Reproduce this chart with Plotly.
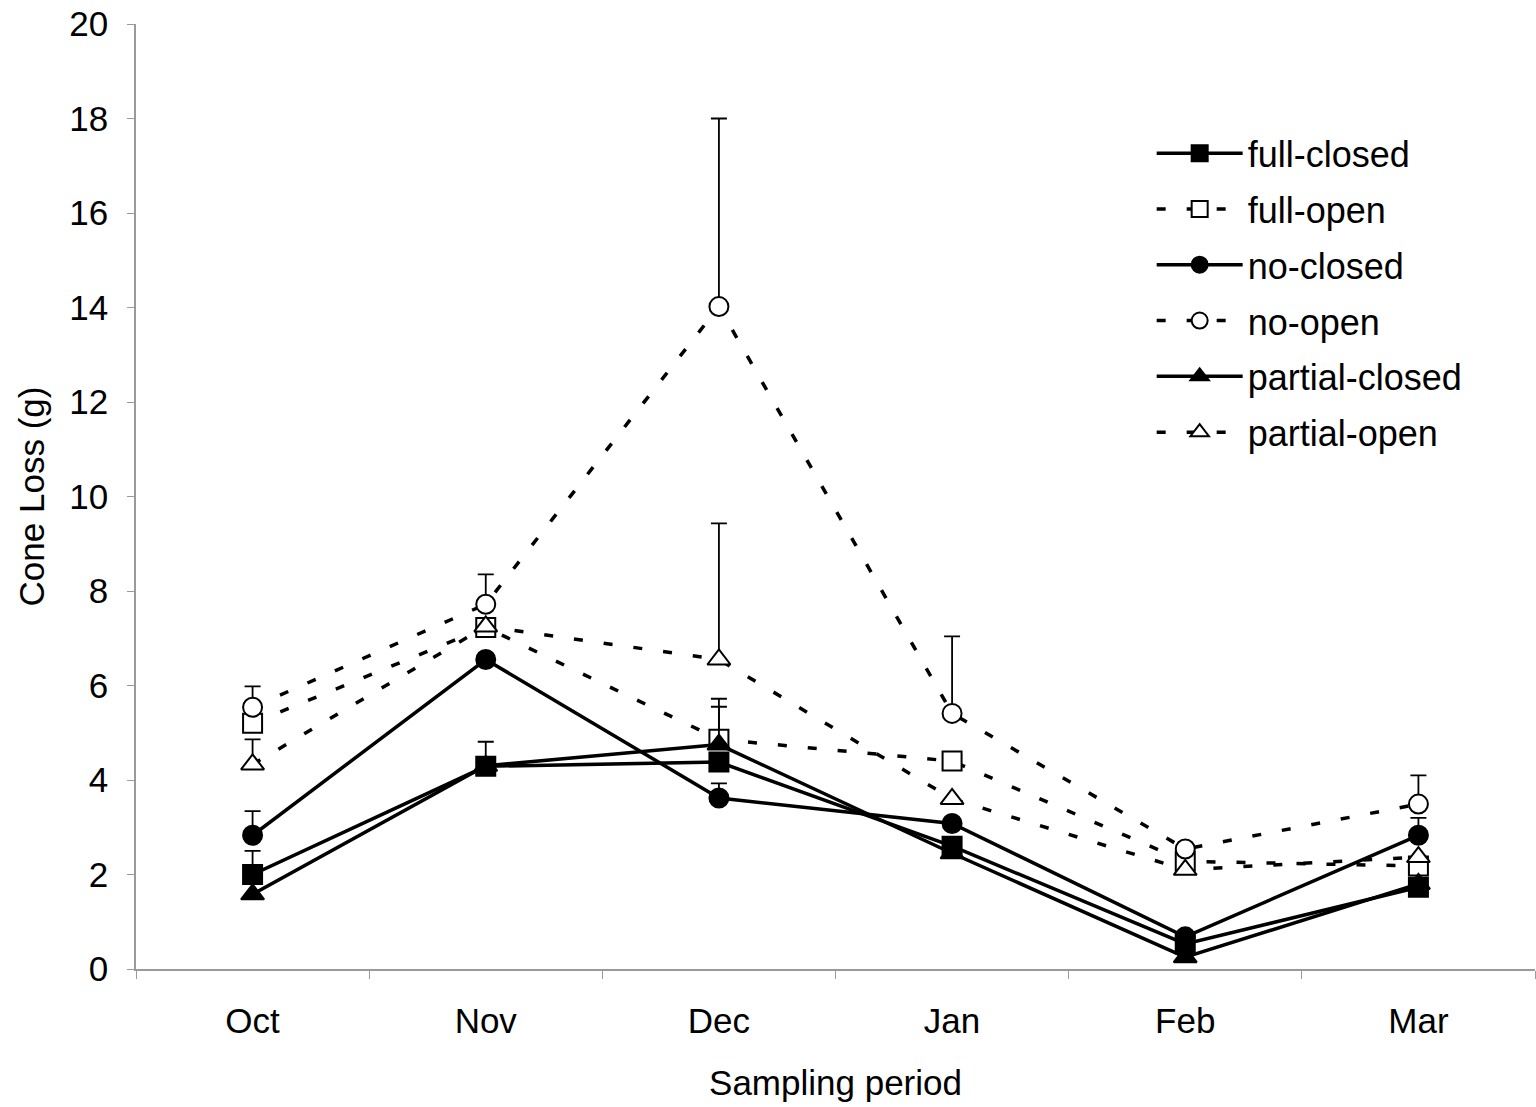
import plotly.graph_objects as go

# Sampling months
months = ["Oct", "Nov", "Dec", "Jan", "Feb", "Mar"]

# Mean cone loss (g) per treatment
full_closed = [2.00, 4.29, 4.38, 2.60, 0.53, 1.73]
full_open = [5.20, 7.23, 4.86, 4.40, 2.28, 2.18]
no_closed = [2.83, 6.55, 3.62, 3.08, 0.68, 2.83]
no_open = [5.54, 7.72, 14.02, 5.41, 2.54, 3.49]
partial_closed = [1.58, 4.30, 4.75, 2.45, 0.25, 1.80]
partial_open = [4.33, 7.25, 6.55, 3.60, 2.10, 2.37]

# Upper error bars (g)
full_closed_err = [0.50, 0.52, 0.00, 0.00, 0.00, 0.00]
full_open_err = [0.00, 0.00, 0.86, 0.00, 0.00, 0.00]
no_closed_err = [0.51, 0.00, 0.31, 0.00, 0.00, 0.37]
no_open_err = [0.44, 0.63, 3.98, 1.63, 0.00, 0.61]
partial_closed_err = [0.00, 0.00, 0.80, 0.00, 0.00, 0.00]
partial_open_err = [0.53, 0.00, 2.88, 0.00, 0.00, 0.00]

FONT = "Liberation Sans, Arial, sans-serif"
FS = 35

series = [
    ("full-closed", full_closed, full_closed_err, "square", "black", "solid"),
    ("full-open", full_open, full_open_err, "square", "white", "dash"),
    ("no-closed", no_closed, no_closed_err, "circle", "black", "solid"),
    ("no-open", no_open, no_open_err, "circle", "white", "dash"),
    ("partial-closed", partial_closed, partial_closed_err, "triangle-up", "black", "solid"),
    ("partial-open", partial_open, partial_open_err, "triangle-up", "white", "dash"),
]

fig = go.Figure()
for name, vals, err, sym, fill, dash in series:
    solid = dash == "solid"
    fig.add_trace(go.Scatter(
        x=months,
        y=vals,
        name=name,
        legendgroup=name,
        mode="lines+markers",
        line=dict(color="black", width=3.5,
                  dash="solid" if solid else "9px,21px"),
        marker=dict(symbol=sym, size=19 if sym != "triangle-up" else 20,
                    color=fill, line=dict(color="black", width=2)),
        error_y=dict(type="data", array=err, arrayminus=[0] * len(err),
                     symmetric=False, color="black", thickness=1.8, width=8),
    ))

fig.update_layout(
    width=1536,
    height=1107,
    margin=dict(l=136, r=1, t=24, b=138),
    paper_bgcolor="white",
    plot_bgcolor="white",
    font=dict(family=FONT, size=FS, color="black"),
    showlegend=True,
    legend=dict(
        x=0.726, y=0.895, xanchor="left", yanchor="top",
        font=dict(family=FONT, size=36, color="black"),
        bgcolor="rgba(0,0,0,0)",
        tracegroupgap=6,
        itemwidth=86,
    ),
    xaxis=dict(
        type="category",
        range=[-0.5, 5.5],
        showline=True, linecolor="#9a9a9a", linewidth=1.5,
        ticks="outside", tickson="boundaries", ticklen=8,
        tickcolor="#9a9a9a",
        ticklabelstandoff=20,
        showgrid=False, zeroline=False,
        tickfont=dict(family=FONT, size=FS),
        title=dict(text="Sampling period", font=dict(family=FONT, size=FS), standoff=32),
    ),
    yaxis=dict(
        range=[0, 20],
        tickvals=[0, 2, 4, 6, 8, 10, 12, 14, 16, 18, 20],
        showline=True, linecolor="#9a9a9a", linewidth=1.5,
        ticks="outside", ticklen=7, tickcolor="#9a9a9a",
        ticklabelstandoff=12,
        showgrid=False, zeroline=False,
        tickfont=dict(family=FONT, size=FS),
        title=dict(text="Cone Loss (g)", font=dict(family=FONT, size=FS), standoff=14),
    ),
)

fig.write_html("out.html")
